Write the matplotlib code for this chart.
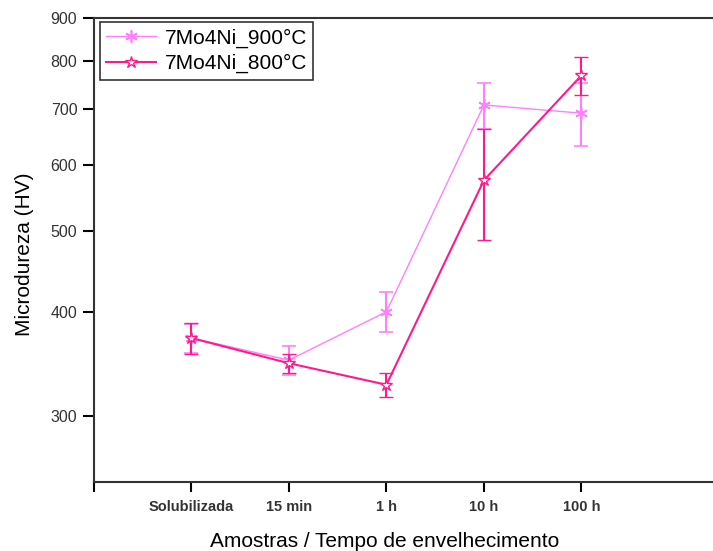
import numpy as np
import matplotlib
matplotlib.use('Agg')
import matplotlib.pyplot as plt
from matplotlib.lines import Line2D

plt.rcParams['font.family'] = ['Liberation Sans', 'DejaVu Sans']

categories = ['Solubilizada', '15 min', '1 h', '10 h', '100 h']
hv_900 = [372, 350, 400, 708, 692]
err_900 = [15, 14, 22, 45, 60]
hv_800 = [372, 347, 327, 575, 768]
err_800 = [16, 9, 11, 88, 40]

c900 = '#ff80ff'
c800 = '#ff1a8c'

fig = plt.figure(figsize=(7.13, 5.51), dpi=100)
ax = fig.add_axes([0.1318, 0.1252, 0.8682, 0.8421])

x = np.arange(1, len(categories) + 1)

st900 = dict(color=c900, lw=1.0, marker=(6, 2, 0), markersize=9, markeredgewidth=1.2)
st800 = dict(color=c800, lw=1.5, marker='*', markersize=9,
             markerfacecolor='white', markeredgewidth=1.0)

ax.errorbar(x, hv_900, yerr=err_900, elinewidth=1.5, capsize=5, capthick=1.5,
            zorder=2, **st900)
ax.errorbar(x, hv_800, yerr=err_800, elinewidth=1.5, capsize=5, capthick=1.5,
            zorder=3, **st800)

ax.set_yscale('log')
ax.set_ylim(250, 900)
ax.set_xlim(0, 6.35)
yt = [300, 400, 500, 600, 700, 800, 900]
ax.set_yticks(yt)
ax.set_yticklabels([str(v) for v in yt])
ax.yaxis.set_minor_locator(matplotlib.ticker.NullLocator())
ax.set_xticks(range(0, len(categories) + 1))
ax.set_xticklabels([''] + categories, fontsize=10.5, fontweight='bold', color='#333333')
for lbl in ax.get_yticklabels():
    lbl.set_fontsize(11.5)
    lbl.set_color('#333333')

ax.tick_params(axis='y', direction='out', length=8, width=1.5, pad=4)
ax.tick_params(axis='x', direction='out', length=7, width=1.5, pad=6)
for s in ['left', 'bottom', 'top']:
    ax.spines[s].set_linewidth(1.5)
    ax.spines[s].set_color('#333333')
ax.spines['right'].set_visible(False)

ax.set_xlabel('Amostras / Tempo de envelhecimento', fontsize=15)
ax.xaxis.set_label_coords(0.47, -0.108)
ax.set_ylabel('Microdureza (HV)', fontsize=15)
ax.yaxis.set_label_coords(-0.097, 0.49)

handles = [Line2D([], [], **st900), Line2D([], [], **st800)]
leg = ax.legend(handles, ['7Mo4Ni_900°C', '7Mo4Ni_800°C'], loc='upper left',
                bbox_to_anchor=(0.0097, 0.991), borderaxespad=0, fontsize=15,
                frameon=True, fancybox=False, edgecolor='black',
                handlelength=2.4, borderpad=0.3, labelspacing=0.3,
                handletextpad=0.4)
leg.get_frame().set_linewidth(1.2)

plt.savefig('out.png', dpi=100)
